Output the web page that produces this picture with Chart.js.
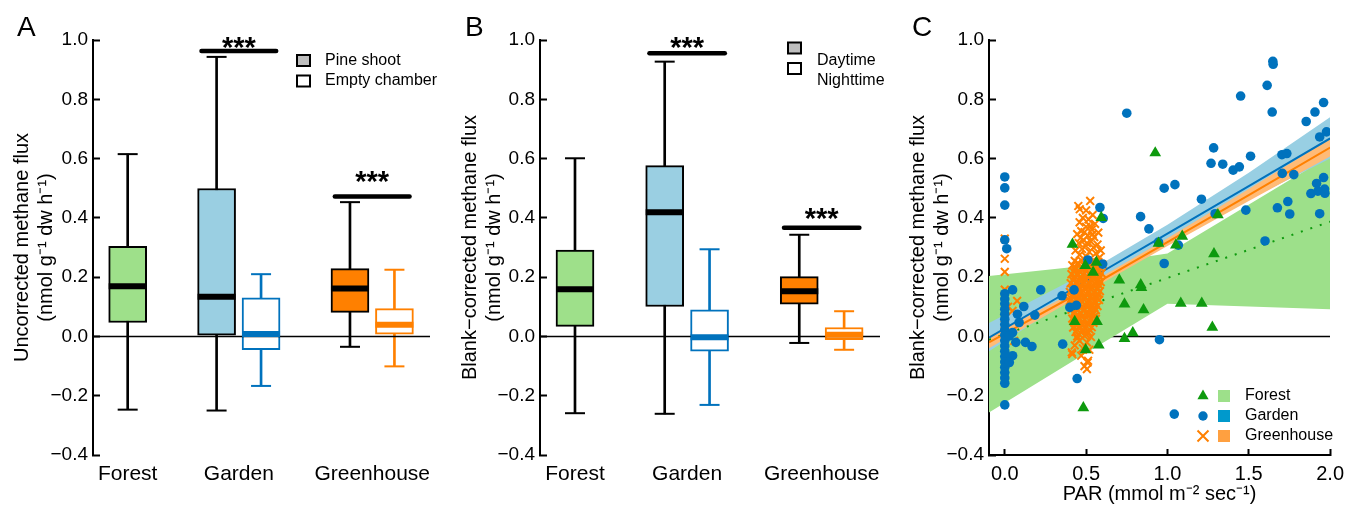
<!DOCTYPE html>
<html>
<head>
<meta charset="utf-8">
<script src="https://cdn.jsdelivr.net/npm/chart.js@4.4.0/dist/chart.umd.min.js"></script>
<style>
  body { margin: 0; background: #fff; }
  #wrap { position: relative; width: 1357px; height: 506px; overflow: hidden; font-family: "Liberation Sans", Arial, Helvetica, sans-serif; }
  #wrap canvas { position: absolute; top: 0; }
  .letter { position: absolute; top: 13px; font-size: 28px; line-height: 28px; color: #000; }
</style>
</head>
<body>
<div id="wrap">
  <canvas id="chartA" width="455" height="506" style="left:0px"></canvas>
  <canvas id="chartB" width="450" height="506" style="left:455px"></canvas>
  <canvas id="chartC" width="452" height="506" style="left:905px"></canvas>
  <div class="letter" style="left:17px">A</div>
  <div class="letter" style="left:465px">B</div>
  <div class="letter" style="left:912px">C</div>
</div>
<script>
// ---------- DATA ----------

var sites = ["Forest", "Garden", "Greenhouse"];
var fluxTicks = [-0.4, -0.2, 0, 0.2, 0.4, 0.6, 0.8, 1.0];
var parTicks = [0, 0.5, 1.0, 1.5, 2.0];

// box summaries per site: [min, q1, median, q3, max]
var uncorrectedGroups = ["Pine shoot", "Empty chamber"];
var uncorrectedPine = [
  [-0.247, 0.047, 0.169, 0.304, 0.615],
  [-0.250, 0.004, 0.134, 0.499, 0.943],
  [-0.035, 0.081, 0.162, 0.229, 0.453]
];
var uncorrectedEmpty = [
  null,
  [-0.167, -0.045, 0.008, 0.130, 0.210],
  [-0.101, 0.008, 0.039, 0.094, 0.225]
];
var uncorrectedSig = [null, 0.963, 0.472];
var uncorrectedStars = [null, 0.99, 0.539];

var correctedGroups = ["Daytime", "Nighttime"];
var correctedDay = [
  [-0.259, 0.034, 0.159, 0.291, 0.601],
  [-0.261, 0.101, 0.419, 0.576, 0.927],
  [-0.022, 0.109, 0.152, 0.202, 0.343]
];
var correctedNight = [
  null,
  [-0.231, -0.050, -0.003, 0.090, 0.294],
  [-0.045, -0.011, 0.006, 0.030, 0.085]
];
var correctedSig = [null, 0.955, 0.367];
var correctedStars = [null, 0.99, 0.412];

// panel C scatter, [PAR, flux]
var forestPoints = [
  [0.416, 0.311], [0.495, 0.239], [0.563, 0.250], [0.543, 0.216], [0.593, 0.401],
  [0.430, 0.050], [0.567, 0.050], [0.497, -0.045], [0.578, -0.029], [0.483, -0.241],
  [0.704, 0.190], [0.836, 0.174], [0.840, 0.165], [0.736, 0.109], [0.853, 0.090],
  [0.736, -0.007], [0.787, 0.012], [0.925, 0.619], [0.945, 0.314], [1.052, 0.308],
  [1.091, 0.338], [1.082, 0.112], [1.211, 0.112], [1.286, 0.279], [1.276, 0.031],
  [1.310, 0.410]
];
var gardenPoints = [
  [0, 0.538], [0, 0.501], [0, 0.443], [0, 0.326], [0.012, 0.296],
  [0, 0.144], [0, 0.126], [0, 0.110], [0, 0.092], [0, 0.075], [0, 0.058], [0, 0.040],
  [0, 0.022], [0, 0.004], [0, -0.014], [0, -0.032], [0, -0.050], [0, -0.068], [0, -0.086],
  [0, -0.104], [0, -0.122], [0, -0.140], [0, -0.158], [0, -0.231],
  [0.048, 0.157], [0.221, 0.157], [0.117, 0.101], [0.078, 0.075], [0.088, 0.047],
  [0.185, 0.072], [0.048, 0.013], [0.028, 0.002], [0.068, -0.020], [0.127, -0.020],
  [0.167, -0.034], [0.048, -0.065], [0.028, -0.088],
  [0.352, 0.137], [0.426, 0.157], [0.400, 0.098], [0.440, 0.105], [0.356, -0.026],
  [0.445, -0.142], [0.511, 0.258], [0.585, 0.435], [0.605, 0.398], [0.602, 0.244],
  [0.750, 0.753], [0.835, 0.404], [0.886, 0.363], [0.945, 0.318], [0.980, 0.246],
  [0.951, -0.011], [0.980, 0.500], [1.046, 0.512], [1.067, 0.308], [1.042, -0.262],
  [1.209, 0.463], [1.268, 0.584], [1.284, 0.636], [1.293, 0.414], [1.340, 0.581],
  [1.404, 0.561], [1.442, 0.572], [1.450, 0.811], [1.511, 0.608], [1.482, 0.426],
  [1.600, 0.322], [1.613, 0.847], [1.648, 0.928], [1.650, 0.918], [1.644, 0.757],
  [1.704, 0.613], [1.734, 0.617], [1.706, 0.550], [1.777, 0.546], [1.676, 0.434],
  [1.740, 0.455], [1.752, 0.413], [1.853, 0.725], [1.907, 0.757], [1.960, 0.789],
  [1.936, 0.673], [1.978, 0.690], [1.882, 0.482], [1.917, 0.516], [1.925, 0.490],
  [1.960, 0.536], [1.966, 0.497], [1.968, 0.483], [1.936, 0.414]
];
var greenhousePoints = [
  [0, 0.330], [0, 0.262], [0, 0.218], [0, 0.158], [0.076, 0.120], [0.048, 0.086],
  [0.058, -0.015], [0, 0.040], [0.020, 0.100],
  [0.525, 0.457], [0.461, 0.429], [0.452, 0.440], [0.500, 0.425], [0.540, 0.410],
  [0.480, 0.400], [0.515, 0.395], [0.460, 0.385], [0.555, 0.380], [0.500, 0.370],
  [0.535, 0.360], [0.470, 0.355], [0.575, 0.350], [0.445, 0.345], [0.510, 0.340],
  [0.550, 0.335], [0.485, 0.325], [0.530, 0.320], [0.455, 0.315], [0.570, 0.310],
  [0.500, 0.305], [0.545, 0.300], [0.475, 0.295], [0.590, 0.290], [0.435, 0.290],
  [0.520, 0.285], [0.560, 0.280], [0.460, 0.275], [0.500, 0.270], [0.580, 0.265],
  [0.490, 0.352], [0.525, 0.372], [0.465, 0.332], [0.540, 0.345], [0.505, 0.315],
  [0.430, 0.255], [0.470, 0.257], [0.510, 0.253], [0.545, 0.256], [0.575, 0.252],
  [0.415, 0.240], [0.450, 0.242], [0.490, 0.238], [0.530, 0.241], [0.565, 0.239], [0.600, 0.243],
  [0.430, 0.225], [0.470, 0.227], [0.505, 0.223], [0.545, 0.226], [0.580, 0.222],
  [0.410, 0.210], [0.445, 0.212], [0.485, 0.208], [0.520, 0.211], [0.560, 0.209], [0.595, 0.213],
  [0.425, 0.195], [0.460, 0.197], [0.500, 0.193], [0.540, 0.196], [0.575, 0.192],
  [0.405, 0.180], [0.440, 0.182], [0.480, 0.178], [0.515, 0.181], [0.555, 0.179], [0.590, 0.183],
  [0.420, 0.165], [0.455, 0.167], [0.495, 0.163], [0.535, 0.166], [0.570, 0.162],
  [0.400, 0.150], [0.435, 0.152], [0.475, 0.148], [0.510, 0.151], [0.550, 0.149], [0.585, 0.153],
  [0.415, 0.135], [0.450, 0.137], [0.490, 0.133], [0.530, 0.136], [0.565, 0.132],
  [0.400, 0.120], [0.440, 0.122], [0.475, 0.118], [0.515, 0.121], [0.555, 0.119], [0.580, 0.123],
  [0.420, 0.105], [0.460, 0.107], [0.500, 0.103], [0.540, 0.106], [0.570, 0.102],
  [0.410, 0.090], [0.445, 0.092], [0.485, 0.088], [0.525, 0.091], [0.560, 0.089],
  [0.425, 0.075], [0.465, 0.077], [0.505, 0.073], [0.545, 0.076],
  [0.415, 0.060], [0.450, 0.062], [0.490, 0.058], [0.530, 0.061], [0.560, 0.059],
  [0.430, 0.045], [0.470, 0.047], [0.510, 0.043], [0.545, 0.046],
  [0.420, 0.030], [0.455, 0.032], [0.495, 0.028], [0.535, 0.031],
  [0.435, 0.015], [0.475, 0.017], [0.515, 0.013],
  [0.445, 0.000], [0.490, 0.002], [0.530, -0.002],
  [0.450, 0.248], [0.490, 0.246], [0.525, 0.249], [0.560, 0.247],
  [0.432, 0.233], [0.468, 0.231], [0.510, 0.234], [0.548, 0.232], [0.585, 0.233],
  [0.425, 0.218], [0.465, 0.216], [0.500, 0.219], [0.540, 0.217], [0.578, 0.218],
  [0.430, 0.203], [0.468, 0.201], [0.505, 0.204], [0.545, 0.202], [0.583, 0.203],
  [0.420, 0.188], [0.460, 0.186], [0.497, 0.189], [0.535, 0.187], [0.572, 0.188],
  [0.425, 0.173], [0.470, 0.171], [0.505, 0.174], [0.545, 0.172], [0.580, 0.173],
  [0.415, 0.158], [0.455, 0.156], [0.492, 0.159], [0.530, 0.157], [0.568, 0.158],
  [0.420, 0.143], [0.460, 0.141], [0.500, 0.144], [0.538, 0.142], [0.573, 0.143],
  [0.408, 0.128], [0.452, 0.126], [0.495, 0.129], [0.535, 0.127], [0.570, 0.128],
  [0.425, 0.113], [0.465, 0.111], [0.505, 0.114], [0.545, 0.112],
  [0.430, 0.098], [0.470, 0.096], [0.510, 0.099], [0.550, 0.097],
  [0.430, 0.083], [0.465, 0.081], [0.505, 0.084], [0.540, 0.082],
  [0.435, 0.068], [0.475, 0.066], [0.515, 0.069], [0.550, 0.067],
  [0.440, 0.053], [0.480, 0.051], [0.520, 0.054],
  [0.440, 0.038], [0.475, 0.036], [0.515, 0.039],
  [0.445, 0.023], [0.485, 0.021], [0.520, 0.024],
  [0.455, 0.008], [0.500, 0.006],
  [0.460, -0.015], [0.505, -0.020], [0.430, -0.030], [0.480, -0.040], [0.520, -0.045],
  [0.445, -0.007], [0.412, -0.054], [0.415, -0.060], [0.470, -0.065], [0.512, -0.082],
  [0.509, -0.088], [0.490, -0.100], [0.505, -0.110]
];

// fitted lines with confidence bands, sampled at bandPAR
var bandPAR = [-0.097, 0.5, 1.0, 1.5, 2.0];
var gardenFit = [-0.004, 0.187, 0.347, 0.507, 0.668];
var gardenHigh = [0.045, 0.215, 0.377, 0.552, 0.740];
var gardenLow = [-0.050, 0.159, 0.317, 0.462, 0.600];
var greenhouseFit = [-0.020, 0.160, 0.318, 0.477, 0.637];
var greenhouseHigh = [0.000, 0.171, 0.331, 0.497, 0.667];
var greenhouseLow = [-0.040, 0.149, 0.305, 0.457, 0.607];
var forestBandPAR = [-0.097, 0.48, 1.0, 2.0];
var forestHigh = [0.204, 0.238, 0.280, 0.610];
var forestLow = [-0.257, -0.063, 0.110, 0.092];
var forestFitPAR = [-0.097, 2.0];
var forestFit = [-0.011, 0.387];

// ---------- STYLE ----------

var FONT = '"Liberation Sans", Arial, Helvetica, sans-serif';
Chart.defaults.font.family = FONT;
Chart.defaults.color = '#000';

var siteCenter = [0, 2.5, 5.5];
var siteFill = ['#9ee08a', '#9acfe2', '#ff8000'];
var siteLine = ['#000000', '#0072bd', '#ff8000'];
var BLUE = '#0072bd', ORANGE = '#ff8000', GREEN = '#0e9a0e';

function fluxLabel(v) {
  if (Math.abs(v) < 1e-9) return '0.0';
  return v.toFixed(1).replace('-', '\u2212');
}

function fluxAxis(width, title, titleTop) {
  return {
    type: 'linear', min: -0.4, max: 1.0,
    afterBuildTicks: function (s) { s.ticks = fluxTicks.map(function (v) { return { value: v }; }); },
    afterFit: function (s) { s.width = width; },
    ticks: { callback: fluxLabel, font: { size: 19 }, padding: 12, color: '#000' },
    grid: { drawOnChartArea: false, drawTicks: true, tickLength: -7, tickWidth: 2, color: '#000' },
    border: { display: true, color: '#000', width: 2 },
    title: { display: true, text: title, font: { size: 20 }, color: '#000', padding: { top: titleTop, bottom: 0 } }
  };
}

// stars over the significance bars
var starsPlugin = {
  id: 'stars',
  afterDraw: function (chart, args, opts) {
    var ctx = chart.ctx, xs = chart.scales.x, ys = chart.scales.y;
    ctx.save();
    ctx.fillStyle = '#000';
    ctx.font = 'bold 29px ' + FONT;
    ctx.textAlign = 'center';
    ctx.textBaseline = 'alphabetic';
    opts.stars.forEach(function (v, i) {
      if (v === null) return;
      ctx.fillText('***', xs.getPixelForValue(siteCenter[i]), ys.getPixelForValue(v) + 14);
    });
    ctx.restore();
  }
};

// square legend of the box panels
var boxLegendPlugin = {
  id: 'boxLegend',
  afterDraw: function (chart, args, opts) {
    var ctx = chart.ctx;
    ctx.save();
    opts.names.forEach(function (name, i) {
      var b = opts.boxes[i], t = opts.text[i];
      ctx.fillStyle = i === 0 ? '#bebebe' : '#ffffff';
      ctx.fillRect(b[0], b[1], 13, 11);
      ctx.strokeStyle = '#000';
      ctx.lineWidth = 2;
      ctx.strokeRect(b[0], b[1], 13, 11);
      ctx.fillStyle = '#000';
      ctx.font = '16px ' + FONT;
      ctx.textAlign = 'left';
      ctx.textBaseline = 'middle';
      ctx.fillText(name, t[0], t[1]);
    });
    ctx.restore();
  }
};

function makeBoxPanel(id, first, second, sig, stars, cfg) {
  var items = [];
  first.forEach(function (s, i) {
    var paired = second[i] !== null;
    items.push({ x: paired ? siteCenter[i] - 0.5 : siteCenter[i], s: s, fill: siteFill[i], line: '#000000' });
    if (paired) items.push({ x: siteCenter[i] + 0.5, s: second[i], fill: '#ffffff', line: siteLine[i] });
  });
  var xMin = -0.78, xMax = 6.8;

  var datasets = [
    { // whiskers
      type: 'bar', grouped: false, barThickness: 2, order: 6,
      data: items.map(function (b) { return { x: b.x, y: [b.s[0], b.s[4]] }; }),
      backgroundColor: items.map(function (b) { return b.line; })
    },
    { // whisker caps
      type: 'scatter', order: 5, pointStyle: 'line', pointRadius: 10, pointBorderWidth: 2,
      data: items.flatMap(function (b) { return [{ x: b.x, y: b.s[0] }, { x: b.x, y: b.s[4] }]; }),
      pointBorderColor: items.flatMap(function (b) { return [b.line, b.line]; })
    },
    { // boxes
      type: 'bar', grouped: false, barThickness: 38, order: 4, borderWidth: 2, borderSkipped: false,
      data: items.map(function (b) { return { x: b.x, y: [b.s[1], b.s[3]] }; }),
      backgroundColor: items.map(function (b) { return b.fill; }),
      borderColor: items.map(function (b) { return b.line; })
    },
    { // zero line
      type: 'line', order: 3, borderColor: '#000', borderWidth: 1.5, pointRadius: 0,
      data: [{ x: xMin, y: 0 }, { x: xMax, y: 0 }]
    },
    { // medians
      type: 'scatter', order: 1, pointStyle: 'line', pointRadius: 19, pointBorderWidth: 6,
      data: items.map(function (b) { return { x: b.x, y: b.s[2] }; }),
      pointBorderColor: items.map(function (b) { return b.line; })
    }
  ];
  sig.forEach(function (v, i) {
    if (v === null) return;
    datasets.push({
      type: 'line', order: 2, borderColor: '#000', borderWidth: 4.5, borderCapStyle: 'round', pointRadius: 0,
      data: [{ x: siteCenter[i] - 0.84, y: v }, { x: siteCenter[i] + 0.84, y: v }]
    });
  });

  return new Chart(document.getElementById(id), {
    type: 'bar',
    data: { datasets: datasets },
    options: {
      responsive: false, animation: false, events: [],
      layout: { padding: { top: 40, right: cfg.padRight, bottom: 0, left: 0 } },
      plugins: {
        legend: { display: false }, tooltip: { enabled: false },
        stars: { stars: stars },
        boxLegend: cfg.legend
      },
      scales: {
        x: {
          type: 'linear', min: xMin, max: xMax, offset: false,
          afterBuildTicks: function (s) { s.ticks = siteCenter.map(function (v) { return { value: v }; }); },
          afterFit: function (s) { s.height = 51; },
          ticks: {
            callback: function (v, i) { return sites[i]; },
            font: { size: 21 }, padding: 7, autoSkip: false, maxRotation: 0, color: '#000'
          },
          grid: { display: false, drawTicks: false, offset: false },
          border: { display: false }
        },
        y: fluxAxis(cfg.axisWidth, cfg.yTitle, cfg.titleTop)
      }
    },
    plugins: [starsPlugin, boxLegendPlugin]
  });
}

// ---------- PANEL A ----------
makeBoxPanel('chartA', uncorrectedPine, uncorrectedEmpty, uncorrectedSig, uncorrectedStars, {
  padRight: 10, axisWidth: 93, titleTop: 10,
  yTitle: ['Uncorrected methane flux', '(nmol g\u207B\u00B9 dw h\u207B\u00B9)'],
  legend: { names: uncorrectedGroups, boxes: [[297, 55], [297, 75.5]], text: [[325, 60.5], [325, 81]] }
});

// ---------- PANEL B ----------
makeBoxPanel('chartB', correctedDay, correctedNight, correctedSig, correctedStars, {
  padRight: 12, axisWidth: 85, titleTop: 3,
  yTitle: ['Blank\u2212corrected methane flux', '(nmol g\u207B\u00B9 dw h\u207B\u00B9)'],
  legend: { names: correctedGroups, boxes: [[333, 42.5], [333, 63]], text: [[362, 61], [362, 81]] }
});

// ---------- PANEL C ----------
function pts(list) { return list.map(function (p) { return { x: p[0], y: p[1] }; }); }
function curve(xs, ys) { return xs.map(function (x, i) { return { x: x, y: ys[i] }; }); }

var cLegendPlugin = {
  id: 'cLegend',
  afterDraw: function (chart) {
    var ctx = chart.ctx;
    var mx = 298, sx = 313, tx = 340, y0 = 396, dy = 20;
    var squares = ['#9de08a', '#0099cc', '#ffa040'];
    ctx.save();
    sites.forEach(function (name, i) {
      var y = y0 + i * dy;
      if (i === 0) {
        ctx.fillStyle = GREEN;
        ctx.beginPath();
        ctx.moveTo(mx, y - 6.5);
        ctx.lineTo(mx + 5.6, y + 3.3);
        ctx.lineTo(mx - 5.6, y + 3.3);
        ctx.closePath();
        ctx.fill();
      } else if (i === 1) {
        ctx.fillStyle = BLUE;
        ctx.beginPath();
        ctx.arc(mx, y, 4.7, 0, Math.PI * 2);
        ctx.fill();
      } else {
        ctx.strokeStyle = ORANGE;
        ctx.lineWidth = 2;
        ctx.beginPath();
        ctx.moveTo(mx - 5.5, y - 5.5); ctx.lineTo(mx + 5.5, y + 5.5);
        ctx.moveTo(mx - 5.5, y + 5.5); ctx.lineTo(mx + 5.5, y - 5.5);
        ctx.stroke();
      }
      ctx.fillStyle = squares[i];
      ctx.fillRect(sx, y - 6, 12, 12);
      ctx.fillStyle = '#000';
      ctx.font = '16px ' + FONT;
      ctx.textAlign = 'left';
      ctx.textBaseline = 'middle';
      ctx.fillText(name, tx, y);
    });
    ctx.restore();
  }
};

function bandEdge(xs, ys, color, fill, order) {
  return {
    type: 'line', order: order, data: curve(xs, ys), pointRadius: 0,
    borderWidth: 0, borderColor: 'transparent', backgroundColor: color, fill: fill
  };
}

new Chart(document.getElementById('chartC'), {
  type: 'scatter',
  data: {
    datasets: [
      { type: 'line', order: 20, data: [{ x: -0.097, y: 0 }, { x: 2.0, y: 0 }], borderColor: '#000', borderWidth: 1.5, pointRadius: 0 },
      bandEdge(forestBandPAR, forestHigh, '#9de08a', '+1', 19),
      bandEdge(forestBandPAR, forestLow, '#9de08a', false, 19),
      bandEdge(bandPAR, gardenHigh, '#98cfe3', '+1', 18),
      bandEdge(bandPAR, gardenLow, '#98cfe3', false, 18),
      bandEdge(bandPAR, greenhouseHigh, '#ffbb77', '+1', 17),
      bandEdge(bandPAR, greenhouseLow, '#ffbb77', false, 17),
      { type: 'line', order: 16, data: curve(forestFitPAR, forestFit), borderColor: GREEN, borderWidth: 2, borderDash: [2, 8], pointRadius: 0 },
      { type: 'line', order: 15, data: curve(bandPAR, gardenFit), borderColor: BLUE, borderWidth: 2, pointRadius: 0 },
      { type: 'line', order: 14, data: curve(bandPAR, greenhouseFit), borderColor: ORANGE, borderWidth: 2, pointRadius: 0 },
      { order: 3, data: pts(greenhousePoints), pointStyle: 'crossRot', pointRadius: 5.5, pointBorderWidth: 2, pointBorderColor: ORANGE, pointBackgroundColor: ORANGE },
      { order: 2, data: pts(gardenPoints), pointStyle: 'circle', pointRadius: 4.8, pointBorderWidth: 0, pointBackgroundColor: BLUE },
      { order: 1, data: pts(forestPoints), pointStyle: 'triangle', pointRadius: 6.8, pointBorderWidth: 0, pointBackgroundColor: GREEN }
    ]
  },
  options: {
    responsive: false, animation: false, events: [],
    layout: { padding: { top: 40, right: 16, bottom: 0, left: 0 } },
    plugins: { legend: { display: false }, tooltip: { enabled: false } },
    scales: {
      x: {
        type: 'linear', min: -0.097, max: 2.0,
        afterBuildTicks: function (s) { s.ticks = parTicks.map(function (v) { return { value: v }; }); },
        afterFit: function (s) { s.height = 51; },
        ticks: { callback: function (v) { return v.toFixed(1); }, font: { size: 20 }, padding: 13, autoSkip: false, maxRotation: 0, color: '#000' },
        grid: { drawOnChartArea: false, drawTicks: true, tickLength: -6, tickWidth: 2, color: '#000' },
        border: { display: true, color: '#000', width: 2 },
        title: { display: true, text: 'PAR (mmol m\u207B\u00B2 sec\u207B\u00B9)', font: { size: 20 }, color: '#000', padding: { top: 0, bottom: 0 } }
      },
      y: fluxAxis(84, ['Blank\u2212corrected methane flux', '(nmol g\u207B\u00B9 dw h\u207B\u00B9)'], 1)
    }
  },
  plugins: [cLegendPlugin]
});
</script>
</body>
</html>
